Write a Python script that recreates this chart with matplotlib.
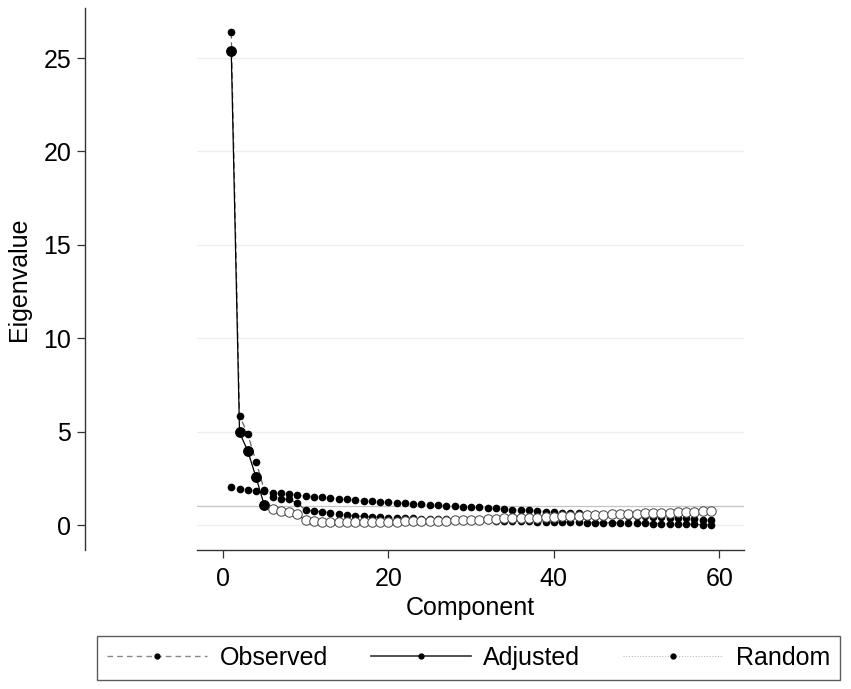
import matplotlib
matplotlib.use("Agg")
import matplotlib.pyplot as plt
from matplotlib.lines import Line2D

plt.rcParams['font.family'] = ['Liberation Sans', 'DejaVu Sans']

# parallel analysis: eigenvalues per component
component = list(range(1, 60))

observed = [26.38, 5.85, 4.86, 3.39, 1.87, 1.52, 1.39, 1.37, 1.16, 0.80,
            0.75, 0.71, 0.66, 0.61, 0.52, 0.49, 0.46, 0.44, 0.42, 0.40,
            0.38, 0.36, 0.35, 0.34, 0.32, 0.31, 0.30, 0.29, 0.28, 0.27,
            0.26, 0.25, 0.24, 0.23, 0.22, 0.20, 0.19, 0.18, 0.17, 0.16,
            0.15, 0.15, 0.14, 0.13, 0.13, 0.12, 0.12, 0.11, 0.10, 0.10,
            0.09, 0.08, 0.07, 0.06, 0.05, 0.04, 0.03, 0.02, 0.01]

adjusted = [25.36, 4.96, 3.96, 2.55, 1.05, 0.84, 0.77, 0.71, 0.57, 0.25,
            0.20, 0.18, 0.18, 0.17, 0.16, 0.16, 0.16, 0.17, 0.17, 0.18,
            0.18, 0.19, 0.20, 0.21, 0.22, 0.23, 0.24, 0.25, 0.26, 0.28,
            0.29, 0.31, 0.33, 0.35, 0.36, 0.37, 0.38, 0.40, 0.42, 0.44,
            0.46, 0.48, 0.50, 0.52, 0.54, 0.56, 0.57, 0.58, 0.59, 0.60,
            0.62, 0.63, 0.64, 0.66, 0.68, 0.70, 0.72, 0.74, 0.76]

random_ev = [2.02, 1.91, 1.87, 1.84, 1.82, 1.73, 1.71, 1.66, 1.60, 1.55,
             1.52, 1.49, 1.45, 1.40, 1.37, 1.33, 1.30, 1.27, 1.24, 1.21,
             1.19, 1.16, 1.13, 1.10, 1.08, 1.06, 1.03, 1.01, 0.99, 0.96,
             0.94, 0.92, 0.89, 0.86, 0.83, 0.80, 0.78, 0.75, 0.72, 0.69,
             0.66, 0.64, 0.62, 0.60, 0.58, 0.56, 0.54, 0.52, 0.50, 0.48,
             0.46, 0.44, 0.42, 0.40, 0.38, 0.35, 0.32, 0.29, 0.26]

n_retained = 5
labels = ["Observed", "Adjusted", "Random"]

fs = 18
fig = plt.figure(figsize=(8.51, 6.89), dpi=100)
ax = fig.add_axes([0.2315, 0.2017, 0.6428, 0.7866])

ax.set_xlim(-3.14, 63.0)
ax.set_ylim(-1.34, 27.68)
ax.set_yticks([0, 5, 10, 15, 20, 25])
ax.set_xticks([0, 20, 40, 60])
ax.yaxis.grid(True, color='#eeeeee', lw=1.0)
ax.set_axisbelow(True)
ax.axhline(1, color='#c4c4c4', lw=0.9, zorder=1)

# random first, then observed, adjusted on top
ax.plot(component, random_ev, color='#bbbbbb', ls=':', lw=0.8,
        marker='o', ms=4.5, mfc='black', mec='black', zorder=2)
ax.plot(component, observed, color='#666666', ls=(0, (5, 3)), lw=0.9,
        marker='o', ms=4.5, mfc='black', mec='black', zorder=3)
ax.plot(component, adjusted, color='black', lw=0.9, zorder=4)
ax.plot(component[:n_retained], adjusted[:n_retained], ls='none',
        marker='o', ms=6.8, mfc='black', mec='black', zorder=5)
ax.plot(component[n_retained:], adjusted[n_retained:], ls='none',
        marker='o', ms=6.8, mfc='white', mec='#444444', mew=0.7, zorder=5)

for s in ['top', 'right']:
    ax.spines[s].set_visible(False)
ax.spines['left'].set_position(('outward', 80.6))
for s in ['left', 'bottom']:
    ax.spines[s].set_color('#333333')
    ax.spines[s].set_linewidth(1.0)
ax.tick_params(axis='both', direction='out', length=6, width=0.9,
               color='#333333', labelsize=fs)
ax.tick_params(axis='y', pad=4)
ax.tick_params(axis='x', pad=6)
ax.set_xlabel("Component", fontsize=fs, labelpad=4)
ax.set_ylabel("Eigenvalue", fontsize=fs, labelpad=9)

handles = [
    Line2D([], [], color='#888888', ls=(0, (4, 3)), lw=1.0,
           marker='o', ms=3.5, mfc='black', mec='black'),
    Line2D([], [], color='#333333', lw=1.2,
           marker='o', ms=3.5, mfc='black', mec='black'),
    Line2D([], [], color='#bbbbbb', ls=(0, (1, 1.5)), lw=0.8,
           marker='o', ms=3.5, mfc='black', mec='black'),
]
leg = fig.legend(handles, labels, loc='lower left',
                 bbox_to_anchor=(0.114, 0.0131, 0.873, 0.0697),
                 mode='expand', ncol=3, frameon=True, fancybox=False,
                 edgecolor='#333333', handlelength=4.0, handletextpad=0.5,
                 borderaxespad=0, borderpad=0.4, fontsize=fs)
leg.get_frame().set_linewidth(1.0)

fig.savefig("out.png", dpi=100)
